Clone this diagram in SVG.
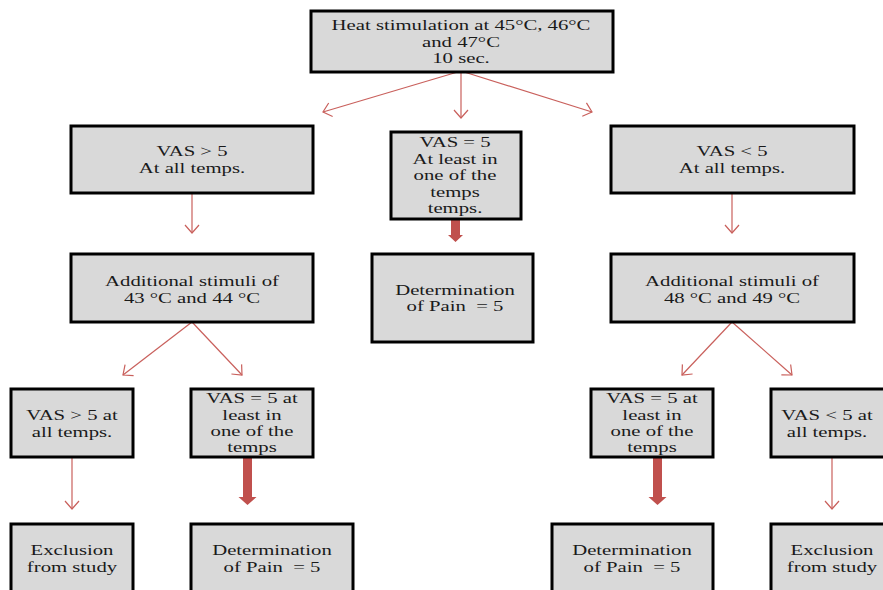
<svg xmlns="http://www.w3.org/2000/svg" width="883" height="590" viewBox="0 0 883 590">
<style>
.box{fill:#d9d9d9;stroke:#000;stroke-width:3}
.t{font-family:"Liberation Serif","Times New Roman",serif;font-size:14.5px;fill:#1a1a1a;text-anchor:middle}
.ln{fill:none;stroke:#c9605c;stroke-width:1.2;marker-end:url(#open)}
.thick{fill:#c0504d;stroke:none}
</style>
<defs>
<marker id="open" markerUnits="userSpaceOnUse" markerWidth="20" markerHeight="20" refX="10" refY="10" orient="auto" viewBox="0 0 20 20">
<path d="M2,3 L10,10 L2,17" fill="none" stroke="#c9605c" stroke-width="1.2"/>
</marker>
</defs>
<rect width="883" height="590" fill="#fff"/>

<g id="connectors">
<line class="ln" x1="461" y1="71" x2="323" y2="112"/>
<line class="ln" x1="461" y1="71" x2="461" y2="118"/>
<line class="ln" x1="461" y1="71" x2="592" y2="112"/>
<line class="ln" x1="192" y1="194" x2="192" y2="233"/>
<line class="ln" x1="732" y1="194" x2="732" y2="233"/>
<line class="ln" x1="192" y1="322" x2="123" y2="375"/>
<line class="ln" x1="192" y1="322" x2="242" y2="375"/>
<line class="ln" x1="732" y1="322" x2="682" y2="375"/>
<line class="ln" x1="732" y1="322" x2="792" y2="375"/>
<line class="ln" x1="72" y1="458" x2="72" y2="509"/>
<line class="ln" x1="832" y1="458" x2="832" y2="509"/>
<path class="thick" d="M451,220 H460 V235 H463 L455.5,242 L448,235 H451 Z"/>
<path class="thick" d="M243,458 H252 V497 H256.5 L247.5,505 L238.5,497 H243 Z"/>
<path class="thick" d="M653,458 H662 V497 H666.5 L657.5,505 L648.5,497 H653 Z"/>
</g>

<g id="n-top">
<rect class="box" x="311" y="11" width="302" height="61"/>
<text class="t" transform="translate(461,30) scale(1.43,1)">Heat stimulation at 45°C, 46°C</text>
<text class="t" transform="translate(461,46.5) scale(1.43,1)">and 47°C</text>
<text class="t" transform="translate(461,63) scale(1.43,1)">10 sec.</text>
</g>

<g id="n-vas-gt">
<rect class="box" x="71" y="126" width="242" height="67"/>
<text class="t" transform="translate(192,156) scale(1.43,1)">VAS &gt; 5</text>
<text class="t" transform="translate(192,173) scale(1.43,1)">At all temps.</text>
</g>

<g id="n-vas-eq">
<rect class="box" x="391" y="132" width="130" height="87"/>
<text class="t" transform="translate(455,147) scale(1.43,1)">VAS = 5</text>
<text class="t" transform="translate(455,163.5) scale(1.43,1)">At least in</text>
<text class="t" transform="translate(455,180) scale(1.43,1)">one of the</text>
<text class="t" transform="translate(455,196.5) scale(1.43,1)">temps</text>
<text class="t" transform="translate(455,213) scale(1.43,1)">temps.</text>
</g>

<g id="n-vas-lt">
<rect class="box" x="611" y="126" width="243" height="67"/>
<text class="t" transform="translate(732,156) scale(1.43,1)">VAS &lt; 5</text>
<text class="t" transform="translate(732,173) scale(1.43,1)">At all temps.</text>
</g>

<g id="n-add-left">
<rect class="box" x="71" y="254" width="242" height="68"/>
<text class="t" transform="translate(192,286) scale(1.43,1)">Additional stimuli of</text>
<text class="t" transform="translate(192,302.5) scale(1.43,1)">43 °C and 44 °C</text>
</g>

<g id="n-det-mid">
<rect class="box" x="372" y="254" width="161" height="88"/>
<text class="t" transform="translate(455,295) scale(1.43,1)">Determination</text>
<text class="t" transform="translate(455,311) scale(1.43,1)">of Pain&#160; = 5</text>
</g>

<g id="n-add-right">
<rect class="box" x="611" y="254" width="243" height="68"/>
<text class="t" transform="translate(732,286) scale(1.43,1)">Additional stimuli of</text>
<text class="t" transform="translate(732,302.5) scale(1.43,1)">48 °C and 49 °C</text>
</g>

<g id="n-ll-vas-gt">
<rect class="box" x="11" y="389" width="122" height="68"/>
<text class="t" transform="translate(72,420) scale(1.43,1)">VAS &gt; 5 at</text>
<text class="t" transform="translate(72,436.5) scale(1.43,1)">all temps.</text>
</g>

<g id="n-lr-vas-eq">
<rect class="box" x="191" y="389" width="122" height="68"/>
<text class="t" transform="translate(252,403) scale(1.43,1)">VAS = 5 at</text>
<text class="t" transform="translate(252,419.5) scale(1.43,1)">least in</text>
<text class="t" transform="translate(252,436) scale(1.43,1)">one of the</text>
<text class="t" transform="translate(252,452) scale(1.43,1)">temps</text>
</g>

<g id="n-rl-vas-eq">
<rect class="box" x="591" y="389" width="122" height="68"/>
<text class="t" transform="translate(652,403) scale(1.43,1)">VAS = 5 at</text>
<text class="t" transform="translate(652,419.5) scale(1.43,1)">least in</text>
<text class="t" transform="translate(652,436) scale(1.43,1)">one of the</text>
<text class="t" transform="translate(652,452) scale(1.43,1)">temps</text>
</g>

<g id="n-rr-vas-lt">
<rect class="box" x="771" y="389" width="122" height="68"/>
<text class="t" transform="translate(827,420) scale(1.43,1)">VAS &lt; 5 at</text>
<text class="t" transform="translate(827,436.5) scale(1.43,1)">all temps.</text>
</g>

<g id="n-excl-left">
<rect class="box" x="11" y="524" width="122" height="80"/>
<text class="t" transform="translate(72,555) scale(1.43,1)">Exclusion</text>
<text class="t" transform="translate(72,571.5) scale(1.43,1)">from study</text>
</g>

<g id="n-det-left">
<rect class="box" x="191" y="524" width="162" height="80"/>
<text class="t" transform="translate(272,555) scale(1.43,1)">Determination</text>
<text class="t" transform="translate(272,571.5) scale(1.43,1)">of Pain&#160; = 5</text>
</g>

<g id="n-det-right">
<rect class="box" x="552" y="524" width="161" height="80"/>
<text class="t" transform="translate(632,555) scale(1.43,1)">Determination</text>
<text class="t" transform="translate(632,571.5) scale(1.43,1)">of Pain&#160; = 5</text>
</g>

<g id="n-excl-right">
<rect class="box" x="771" y="524" width="122" height="80"/>
<text class="t" transform="translate(832,555) scale(1.43,1)">Exclusion</text>
<text class="t" transform="translate(832,571.5) scale(1.43,1)">from study</text>
</g>
</svg>
